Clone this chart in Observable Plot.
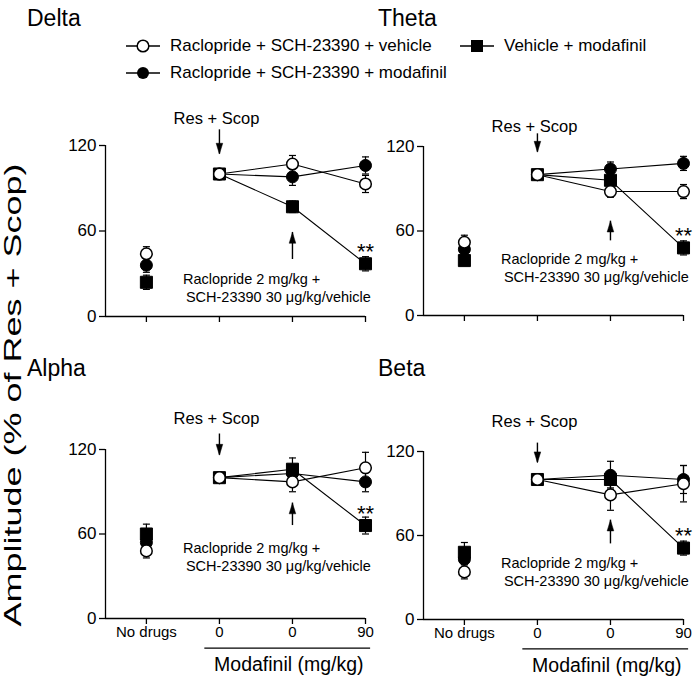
<!DOCTYPE html>
<html><head><meta charset="utf-8">
<script src="https://cdn.jsdelivr.net/npm/d3@7"></script>
<script src="https://cdn.jsdelivr.net/npm/@observablehq/plot@0.6"></script>
<style>
body{margin:0;background:#fff;font-family:"Liberation Sans",Arial,sans-serif;color:#000;}
#chart{position:relative;width:699px;height:678px;overflow:hidden;background:#fff;}
.abs{position:absolute;white-space:nowrap;}
</style></head><body><div id="chart"></div>
<script>
// ---------------- data ----------------
const panelNames = ["Delta", "Theta", "Alpha", "Beta"];
const conditionLabels = ["No drugs", "0", "0", "90"];
const seriesNames = ["Raclopride + SCH-23390 + vehicle", "Raclopride + SCH-23390 + modafinil", "Vehicle + modafinil"];
const yTicks = [0, 60, 120];
const xAxisTitle = "Modafinil (mg/kg)";
const yAxisTitle = "Amplitude (% of Res + Scop)";
const eventLabel = "Res + Scop";
const noteLines = ["Raclopride 2 mg/kg +", "SCH-23390 30 μg/kg/vehicle"];
const sigLabel = "**";

// values: [No drugs, Res+Scop (0), after drugs (0), 90]
const deltaRacVeh = [44, 100, 107, 93];
const deltaRacVehErr = [5, 0, 6, 6];
const deltaRacMod = [36, 100, 98, 106];
const deltaRacModErr = [5, 0, 6, 6];
const deltaVehMod = [24, 100, 77, 37];
const deltaVehModErr = [5, 0, 4, 5];

const thetaRacVeh = [52, 100, 88, 88];
const thetaRacVehErr = [5, 0, 4, 5];
const thetaRacMod = [47, 100, 104, 108];
const thetaRacModErr = [4, 0, 5, 5];
const thetaVehMod = [39, 100, 96, 48];
const thetaVehModErr = [3, 0, 4, 5];

const alphaRacVeh = [48, 100, 97, 107];
const alphaRacVehErr = [5, 0, 7, 11];
const alphaRacMod = [54, 100, 103, 97];
const alphaRacModErr = [5, 0, 6, 7];
const alphaVehMod = [60, 100, 106, 66];
const alphaVehModErr = [7, 0, 8, 6];

const betaRacVeh = [34, 100, 89, 97];
const betaRacVehErr = [5, 0, 11, 13];
const betaRacMod = [43, 100, 103, 100];
const betaRacModErr = [6, 0, 10, 10];
const betaVehMod = [48, 100, 100, 51];
const betaVehModErr = [7, 0, 6, 5];

// annotation anchors (in data units) per panel
const eventLabelY = [139, 134, 142, 141];
const downArrowFrom = [131, 129, 131, 126];
const downArrowTo = [114, 116, 116, 112];
const upArrowFrom = [40, 53, 66, 54];
const upArrowTo = [59, 67, 82, 71];
const noteY = [26, 40, 50, 40];

// ---------------- build ----------------
const panelSeries = [
  [[deltaRacVeh, deltaRacVehErr], [deltaRacMod, deltaRacModErr], [deltaVehMod, deltaVehModErr]],
  [[thetaRacVeh, thetaRacVehErr], [thetaRacMod, thetaRacModErr], [thetaVehMod, thetaVehModErr]],
  [[alphaRacVeh, alphaRacVehErr], [alphaRacMod, alphaRacModErr], [alphaVehMod, alphaVehModErr]],
  [[betaRacVeh, betaRacVehErr], [betaRacMod, betaRacModErr], [betaVehMod, betaVehModErr]]
];

const FONT = '"Liberation Sans", Arial, sans-serif';
const capSym = {draw(ctx, size){const r = Math.sqrt(size/Math.PI); ctx.moveTo(-r,0); ctx.lineTo(r,0);}};
const headDown = {draw(ctx, size){const r = Math.sqrt(size/Math.PI); ctx.moveTo(0,0); ctx.lineTo(-r*0.55,-r*1.8); ctx.lineTo(r*0.55,-r*1.8); ctx.closePath();}};
const headUp = {draw(ctx, size){const r = Math.sqrt(size/Math.PI); ctx.moveTo(0,0); ctx.lineTo(-r*0.55,r*1.8); ctx.lineTo(r*0.55,r*1.8); ctx.closePath();}};

const boxes = [
  {left: 0, top: 100, height: 240, mt: 45, mb: 24, bottom: false},
  {left: 318, top: 100, height: 240, mt: 46, mb: 25, bottom: false},
  {left: 0, top: 400, height: 278, mt: 49, mb: 60, bottom: true},
  {left: 318, top: 400, height: 278, mt: 51, mb: 59, bottom: true}
];
const XMIN = -0.56;

const chart = document.getElementById("chart");

panelSeries.forEach((series, p) => {
  const rows = [];
  series.forEach(([vals, errs], s) => {
    vals.forEach((v, i) => rows.push({series: seriesNames[s], s, i, v, e: errs[i]}));
  });
  const errRows = rows.filter(d => d.e > 0);
  const lineRows = rows.filter(d => d.i >= 1);
  const box = boxes[p];
  const sqRow = rows.find(d => d.s === 2 && d.i === 3);

  const marks = [
    Plot.ruleX([XMIN], {y1: 0, y2: 120, stroke: "black", strokeWidth: 1.3}),
    Plot.ruleY([0], {x1: XMIN, x2: 3, stroke: "black", strokeWidth: 1.3}),
    Plot.axisY({ticks: yTicks, tickSize: 6, tickPadding: 3, fontSize: 17, label: null, strokeWidth: 1.3}),
    Plot.axisX({ticks: [0, 1, 2, 3], tickSize: 6, tickPadding: 2, fontSize: 15, label: null, strokeWidth: 1.3,
      tickFormat: box.bottom ? (i => conditionLabels[i]) : (() => "")}),
    Plot.ruleX(errRows, {x: "i", y1: d => d.v - d.e, y2: d => d.v + d.e, stroke: "black", strokeWidth: 1.2}),
    Plot.dot(errRows, {x: "i", y: d => d.v + d.e, symbol: capSym, r: 3.5, stroke: "black", fill: "none", strokeWidth: 1.2}),
    Plot.dot(errRows, {x: "i", y: d => d.v - d.e, symbol: capSym, r: 3.5, stroke: "black", fill: "none", strokeWidth: 1.2}),
    Plot.line(lineRows, {x: "i", y: "v", z: "series", stroke: "black", strokeWidth: 1.1}),
    Plot.dot(rows.filter(d => d.s === 1), {x: "i", y: "v", r: 6, fill: "black", stroke: "black", strokeWidth: 1}),
    Plot.dot(rows.filter(d => d.s === 2), {x: "i", y: "v", r: 6.8, symbol: "square", fill: "black", stroke: "black", strokeWidth: 1}),
    Plot.dot(rows.filter(d => d.s === 0), {x: "i", y: "v", r: 5.8, fill: "white", stroke: "black", strokeWidth: 1.5}),
    Plot.text([eventLabel], {x: 1, y: eventLabelY[p], text: d => d, fontSize: 16.5, dx: -3}),
    Plot.ruleX([1], {y1: downArrowFrom[p], y2: downArrowTo[p], stroke: "black", strokeWidth: 1.4}),
    Plot.dot([1], {x: 1, y: downArrowTo[p], symbol: headDown, r: 6, fill: "black", stroke: "black", strokeWidth: 0.5}),
    Plot.ruleX([2], {y1: upArrowFrom[p], y2: upArrowTo[p], stroke: "black", strokeWidth: 1.4}),
    Plot.dot([2], {x: 2, y: upArrowTo[p], symbol: headUp, r: 6, fill: "black", stroke: "black", strokeWidth: 0.5}),
    Plot.text([noteLines[0]], {x: 0.5, y: noteY[p], text: d => d, textAnchor: "start", fontSize: 14.5}),
    Plot.text([noteLines[1]], {x: 0.5, y: noteY[p], text: d => d, textAnchor: "start", fontSize: 14.5, dx: 3, dy: 18}),
    Plot.text([sqRow], {x: "i", y: "v", text: () => sigLabel, fontSize: 22, dy: -12, letterSpacing: 3})
  ];
  if (box.bottom) {
    marks.push(Plot.ruleY([-21], {x1: 0.8, x2: 3.07, stroke: "black", strokeWidth: 1.3}));
    marks.push(Plot.text([xAxisTitle], {x: 1.95, y: -33, text: d => d, fontSize: 19.5}));
  }

  const svg = Plot.plot({
    width: 375,
    height: box.height,
    marginLeft: 105,
    marginRight: 10,
    marginTop: box.mt,
    marginBottom: box.mb,
    x: {domain: [XMIN, 3], type: "linear"},
    y: {domain: [0, 120]},
    style: {fontFamily: FONT, fontSize: "15px", color: "black", background: "transparent", overflow: "visible"},
    marks
  });
  svg.style.position = "absolute";
  svg.style.left = box.left + "px";
  svg.style.top = box.top + "px";
  chart.appendChild(svg);
});

// panel titles
const titlePos = [[27, 6], [378, 6], [27, 356], [378, 356]];
panelNames.forEach((name, p) => {
  const d = document.createElement("div");
  d.className = "abs";
  d.style.cssText = `left:${titlePos[p][0]}px;top:${titlePos[p][1]}px;font-size:23px;line-height:24px;`;
  d.textContent = name;
  chart.appendChild(d);
});

// legend
const legendPos = [[126, 46], [126, 73], [460, 46]];
seriesNames.forEach((name, s) => {
  const d = document.createElement("div");
  d.className = "abs";
  d.style.cssText = `left:${legendPos[s][0]}px;top:${legendPos[s][1] - 10}px;height:20px;display:flex;align-items:center;font-size:17px;`;
  const sym = s === 0 ? '<circle cx="17" cy="10" r="5.8" fill="white" stroke="black" stroke-width="1.5"/>'
    : s === 1 ? '<circle cx="17" cy="10" r="6" fill="black"/>'
    : '<rect x="11" y="4" width="12" height="12" fill="black"/>';
  d.innerHTML = `<svg width="34" height="20" style="margin-right:10px"><line x1="0" x2="34" y1="10" y2="10" stroke="black" stroke-width="1.3"/>${sym}</svg><span>${name}</span>`;
  chart.appendChild(d);
});

// y axis title
const yl = document.createElement("div");
yl.className = "abs";
yl.style.cssText = "left:12px;top:395px;font-size:24px;line-height:25px;transform:translate(-50%,-50%) rotate(-90deg) scaleX(1.5);";
yl.textContent = yAxisTitle;
chart.appendChild(yl);
</script></body></html>
